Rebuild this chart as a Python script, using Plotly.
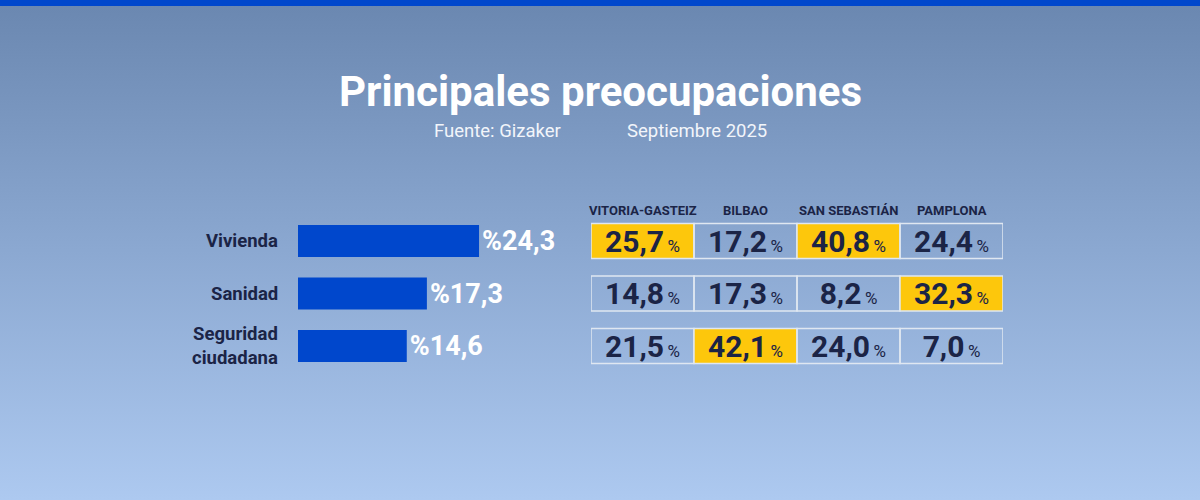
import plotly.graph_objects as go

# Datos: principales preocupaciones (Gizaker, septiembre 2025)
concerns = ['Vivienda', 'Sanidad', 'Seguridad<br>ciudadana']
total = [24.3, 17.3, 14.6]

cities = ['VITORIA-GASTEIZ', 'BILBAO', 'SAN SEBASTIÁN', 'PAMPLONA']
vitoria = [25.7, 14.8, 21.5]
bilbao = [17.2, 17.3, 42.1]
donostia = [40.8, 8.2, 24.0]
pamplona = [24.4, 32.3, 7.0]
city_values = [vitoria, bilbao, donostia, pamplona]

W, H = 1200, 500
NAVY = '#1b2446'
YELLOW = '#fdc70c'
BLUE = '#0047cc'
FONT = 'Roboto'


def es(v):
    return f'{v:.1f}'.replace('.', ',')


fig = go.Figure()

# barras de la izquierda
fig.add_trace(go.Bar(
    y=concerns, x=total, orientation='h', width=0.61,
    marker=dict(color=BLUE, line=dict(width=0)),
    text=['<b>%' + es(v) + '</b>' for v in total], textposition='outside',
    textfont=dict(family=FONT, size=27, color='white'),
    cliponaxis=False, hoverinfo='skip', xaxis='x', yaxis='y',
))

# tabla por ciudad: una celda por barra, resaltada la mayor de cada ciudad
for i, (city, vals) in enumerate(zip(cities, city_values)):
    top = max(vals)
    fig.add_trace(go.Bar(
        y=concerns, x=[1] * len(vals), base=[i] * len(vals), orientation='h',
        width=0.67,
        marker=dict(color=[YELLOW if v == top else 'rgba(0,0,0,0)' for v in vals],
                    line=dict(color='#dfe7f1', width=1.5)),
        text=[f'<b>{es(v)}</b><span style="font-size:17px">\u2009%</span>' for v in vals],
        textposition='inside', insidetextanchor='middle', textangle=0,
        constraintext='none',
        insidetextfont=dict(family=FONT, size=30, color=NAVY),
        hoverinfo='skip', xaxis='x2', yaxis='y',
    ))

x0 = 298
px_per_unit = 7.45
xrange_max = 40
row_h = 52.5
y_top = 241 - row_h / 2
y_bot = y_top + 3 * row_h

annotations = [
    dict(text='<b>Principales preocupaciones</b>', x=0.5, y=1 - 92 / H,
         xref='paper', yref='paper', showarrow=False, yanchor='middle',
         font=dict(family=FONT, size=42, color='white')),
    dict(text='Fuente: Gizaker', x=497 / W, y=1 - 131 / H,
         xref='paper', yref='paper', showarrow=False, yanchor='middle',
         font=dict(family=FONT, size=18.5, color='#f2f5fa')),
    dict(text='Septiembre 2025', x=697 / W, y=1 - 131 / H,
         xref='paper', yref='paper', showarrow=False, yanchor='middle',
         font=dict(family=FONT, size=18.5, color='#f2f5fa')),
]
for i, city in enumerate(cities):
    annotations.append(dict(
        text=f'<b>{city}</b>', x=i + 0.5, y=1 - 211 / H, xref='x2', yref='paper',
        showarrow=False, yanchor='middle',
        font=dict(family=FONT, size=13, color=NAVY)))

# etiquetas de fila
for c in concerns:
    annotations.append(dict(
        text=f'<b>{c}</b>', x=280 / W, y=c, xref='paper', yref='y',
        xanchor='right', yanchor='middle', align='right', showarrow=False,
        font=dict(family=FONT, size=18.5, color=NAVY)))

gradient = ('data:image/svg+xml;utf8,'
            '<svg xmlns="http://www.w3.org/2000/svg" width="1200" height="500">'
            '<defs><linearGradient id="g" x1="0" y1="0" x2="0" y2="1">'
            '<stop offset="0" stop-color="%236a87b0"/>'
            '<stop offset="0.5" stop-color="%238ba8d1"/>'
            '<stop offset="1" stop-color="%23adc9f0"/>'
            '</linearGradient></defs>'
            '<rect width="1200" height="500" fill="url(%23g)"/></svg>')

fig.update_layout(
    width=W, height=H, margin=dict(l=0, r=0, t=0, b=0),
    paper_bgcolor='#8aa6cf', plot_bgcolor='rgba(0,0,0,0)',
    barmode='overlay', showlegend=False,
    font=dict(family=FONT, color=NAVY),
    xaxis=dict(domain=[x0 / W, (x0 + px_per_unit * xrange_max) / W],
               range=[0, xrange_max], visible=False, fixedrange=True),
    xaxis2=dict(domain=[591 / W, 1003 / W], range=[0, 4], visible=False,
                anchor='y', fixedrange=True),
    yaxis=dict(domain=[1 - y_bot / H, 1 - y_top / H], autorange='reversed',
               showgrid=False, zeroline=False, showline=False,
               showticklabels=False, fixedrange=True),
    annotations=annotations,
    images=[dict(source=gradient, xref='paper', yref='paper', x=0, y=1,
                 sizex=1, sizey=1, sizing='stretch', layer='below')],
    shapes=[dict(type='rect', xref='paper', yref='paper', x0=0, x1=1,
                 y0=1 - 6 / H, y1=1, fillcolor=BLUE, line=dict(width=0))],
)

fig.write_html('out.html', config={'displayModeBar': False},
               post_script="document.body.style.margin='0';")
